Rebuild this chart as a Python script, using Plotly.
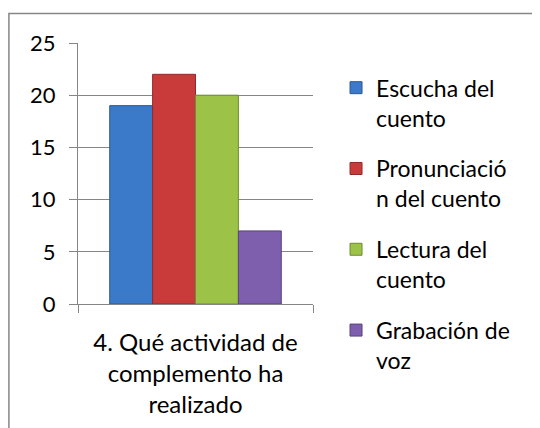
import plotly.graph_objects as go

category = ["4. Qué actividad de<br>complemento ha<br>realizado"]
series_names = [
    "Escucha del<br>cuento",
    "Pronunciació<br>n del cuento",
    "Lectura del<br>cuento",
    "Grabación de<br>voz",
]
series_values = [19, 22, 20, 7]
series_colors = ["#3b79c9", "#c93b3b", "#9dc248", "#7e5fad"]
edge_colors = ["#2a5a96", "#8f2a2a", "#6f8c30", "#5a4280"]

FONT = "Lato, Open Sans, sans-serif"

fig = go.Figure()
for i, (name, val) in enumerate(zip(series_names, series_values)):
    fig.add_trace(
        go.Bar(
            x=category,
            y=[val],
            name=name,
            legendgroup=f"g{i}",
            marker=dict(color=series_colors[i], line=dict(color=edge_colors[i], width=1)),
        )
    )

# the page body adds an 8px margin, so the plot area is placed 8px up/left
fig.update_layout(
    width=540,
    height=428,
    margin=dict(l=70, r=235, t=35, b=132),
    paper_bgcolor="white",
    plot_bgcolor="white",
    barmode="group",
    bargap=0.27,
    bargroupgap=0,
    font=dict(family=FONT, size=23, color="#000000"),
    showlegend=True,
    legend=dict(
        x=1.098,
        y=0.911,
        xanchor="left",
        yanchor="top",
        traceorder="grouped",
        tracegroupgap=18,
        valign="top",
        maxheight=400,
        font=dict(family=FONT, size=23, color="#000000"),
        bgcolor="rgba(0,0,0,0)",
    ),
    shapes=[
        dict(
            type="rect",
            xref="paper",
            yref="paper",
            x0=-0.294,
            x1=1.99,
            y0=-0.51,
            y1=1.113,
            line=dict(color="#868686", width=1.5),
            fillcolor="rgba(0,0,0,0)",
            layer="below",
        )
    ],
)

fig.update_yaxes(
    range=[0, 25],
    dtick=5,
    showgrid=True,
    gridcolor="#868686",
    gridwidth=1,
    showline=True,
    linecolor="#868686",
    linewidth=1,
    ticks="outside",
    ticklen=8,
    tickcolor="#868686",
    ticklabelstandoff=9,
    zeroline=False,
    tickfont=dict(family=FONT, size=22, color="#000000"),
)
fig.update_xaxes(
    showline=True,
    linecolor="#868686",
    linewidth=1,
    ticks="outside",
    tickson="boundaries",
    ticklen=8,
    tickcolor="#868686",
    ticklabelstandoff=17,
    tickfont=dict(family=FONT, size=24, color="#000000"),
    showgrid=False,
)

fig.write_html("out.html")
